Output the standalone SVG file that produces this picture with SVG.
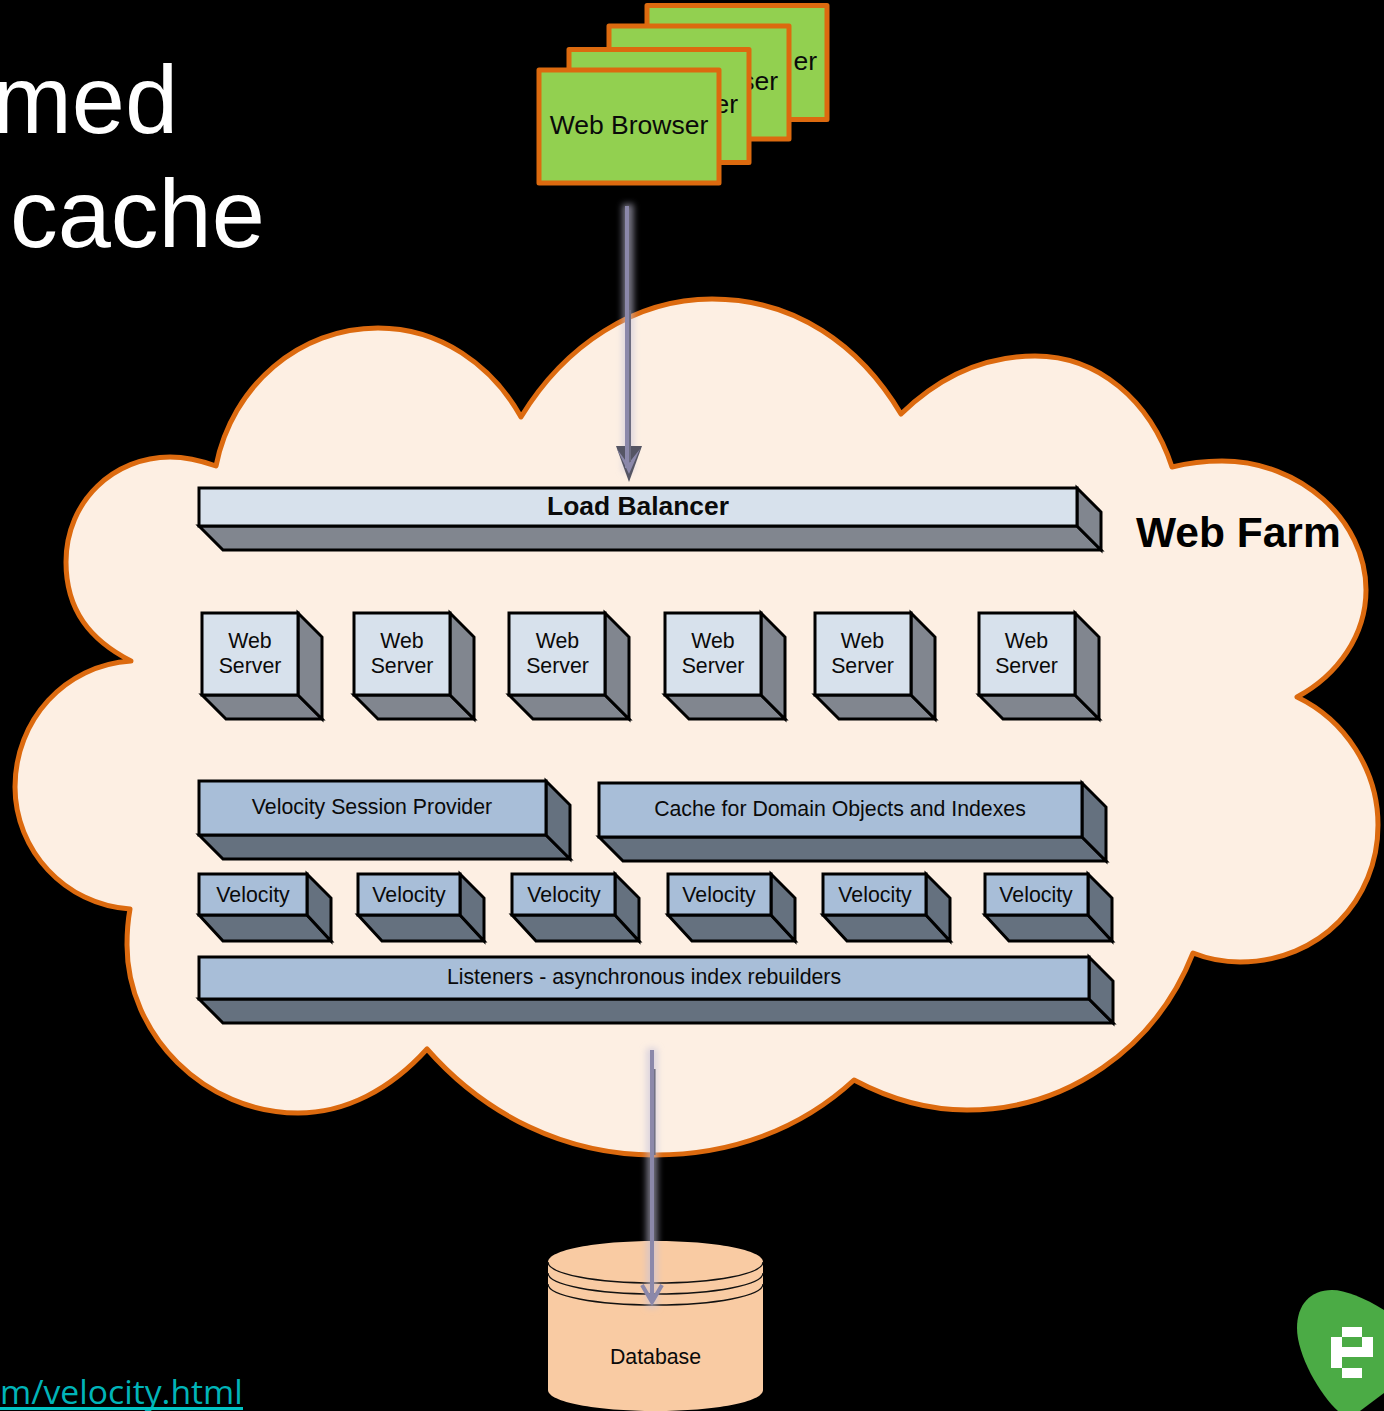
<svg xmlns="http://www.w3.org/2000/svg" width="1384" height="1411" viewBox="0 0 1384 1411">
<style>
text{font-family:"Liberation Sans",Arial,sans-serif;fill:#0a0a0a}
.m{text-anchor:middle}
.t21{font-size:21.3px}
.browser{fill:#92d050;stroke:#dc6a0f;stroke-width:5;stroke-linejoin:round}
.bt{font-size:26.500px}
.title{font-size:95.5px;fill:#fff}
.box path,.box rect{stroke:#000;stroke-width:3;stroke-linejoin:miter}
.pale .f{fill:#d7e1ec}.pale .s{fill:#81868f}
.blue .f{fill:#a8bed8}.blue .s{fill:#65717f}
.glow{stroke:#c4c2da;stroke-opacity:.6;stroke-width:11;fill:none;filter:url(#blur)}
.dbl{fill:none;stroke:#111;stroke-width:1.3}
</style>
<defs>
<filter id="blur" filterUnits="userSpaceOnUse" x="0" y="0" width="1384" height="1411"><feGaussianBlur stdDeviation="3"/></filter>
</defs>
<rect width="1384" height="1411" fill="#000"/>
<g id="title">
<text class="title" x="-7.700" y="133">med</text>
<text class="title" x="10" y="247">cache</text>
</g>
<g id="link">
<text x="0" y="1404" font-size="33.700" style="font-family:'Open Sans','Noto Sans',sans-serif;fill:#00b4b8">m/velocity.html</text>
<rect x="0" y="1407" width="243" height="3" fill="#00c4c4"/>
</g>
<g id="browser-4"><rect class="browser" x="647" y="5.500" width="180" height="114"/><text class="bt" x="817" y="70" text-anchor="end">er</text></g>
<g id="browser-3"><rect class="browser" x="609" y="26" width="180" height="113"/><text class="bt" x="778" y="90" text-anchor="end">ser</text></g>
<g id="browser-2"><rect class="browser" x="569" y="49.500" width="180" height="113"/><text class="bt" x="738" y="113" text-anchor="end">er</text></g>
<g id="browser-1"><rect class="browser" x="539" y="70" width="180" height="113"/><text class="bt m" x="629" y="134">Web Browser</text></g>
<g id="web-farm-cloud">
<path d="M131 661C90 640 66 610 66 562C66 500 115 457 170 457C187 457 202 461 216 466C232 385 300 328 378 328C440 328 492 365 521 417C565 345 635 299 712 299C795 299 860 345 901 414C940 376 985 356 1035 356C1098 356 1150 400 1172 467C1192 462 1205 461 1222 461C1300 461 1366 520 1366 590C1366 635 1338 675 1297 697C1345 720 1378 770 1378 825C1378 900 1320 962 1240 962C1222 962 1208 959 1193 953C1155 1050 1065 1110 967 1110C925 1110 888 1098 854 1080C800 1130 730 1155 655 1155C565 1155 485 1115 427 1049C390 1090 345 1113 298 1113C205 1113 127 1035 127 945C127 930 128 920 130 909C65 905 15 850 15 787C15 720 65 665 131 661Z" fill="#fdefe3" stroke="#dc6a0f" stroke-width="5" stroke-linejoin="round"/>
<text x="1136" y="547" font-size="42.500" font-weight="700" style="fill:#000">Web Farm</text>
</g>
<g id="load-balancer" class="box pale"><path class="s" d="M199 526L223 550H1101L1077 526Z"/><path class="s" d="M1077 488L1101 512V550L1077 526Z"/><rect class="f" x="199" y="488" width="878" height="38"/><text class="m" x="638" y="515" font-size="26.400" font-weight="700">Load Balancer</text></g>
<g id="web-server-1" class="box pale"><path class="s" d="M202 695L226 719H322L298 695Z"/><path class="s" d="M298 613L322 637V719L298 695Z"/><rect class="f" x="202" y="613" width="96" height="82"/><text class="t21 m" x="250" y="648">Web</text><text class="t21 m" x="250" y="673">Server</text></g>
<g id="web-server-2" class="box pale"><path class="s" d="M354 695L378 719H474L450 695Z"/><path class="s" d="M450 613L474 637V719L450 695Z"/><rect class="f" x="354" y="613" width="96" height="82"/><text class="t21 m" x="402" y="648">Web</text><text class="t21 m" x="402" y="673">Server</text></g>
<g id="web-server-3" class="box pale"><path class="s" d="M509 695L533 719H629L605 695Z"/><path class="s" d="M605 613L629 637V719L605 695Z"/><rect class="f" x="509" y="613" width="96" height="82"/><text class="t21 m" x="557.500" y="648">Web</text><text class="t21 m" x="557.500" y="673">Server</text></g>
<g id="web-server-4" class="box pale"><path class="s" d="M665 695L689 719H785L761 695Z"/><path class="s" d="M761 613L785 637V719L761 695Z"/><rect class="f" x="665" y="613" width="96" height="82"/><text class="t21 m" x="713" y="648">Web</text><text class="t21 m" x="713" y="673">Server</text></g>
<g id="web-server-5" class="box pale"><path class="s" d="M815 695L839 719H935L911 695Z"/><path class="s" d="M911 613L935 637V719L911 695Z"/><rect class="f" x="815" y="613" width="96" height="82"/><text class="t21 m" x="862.500" y="648">Web</text><text class="t21 m" x="862.500" y="673">Server</text></g>
<g id="web-server-6" class="box pale"><path class="s" d="M979 695L1003 719H1099L1075 695Z"/><path class="s" d="M1075 613L1099 637V719L1075 695Z"/><rect class="f" x="979" y="613" width="96" height="82"/><text class="t21 m" x="1026.500" y="648">Web</text><text class="t21 m" x="1026.500" y="673">Server</text></g>
<g id="session-provider" class="box blue"><path class="s" d="M199 835L223 859H570L546 835Z"/><path class="s" d="M546 781L570 805V859L546 835Z"/><rect class="f" x="199" y="781" width="347" height="54"/><text class="t21 m" x="372" y="814">Velocity Session Provider</text></g>
<g id="domain-cache" class="box blue"><path class="s" d="M599 837L623 861H1106L1082 837Z"/><path class="s" d="M1082 783L1106 807V861L1082 837Z"/><rect class="f" x="599" y="783" width="483" height="54"/><text class="t21 m" x="840" y="816">Cache for Domain Objects and Indexes</text></g>
<g id="velocity-1" class="box blue"><path class="s" d="M199 915L223 941H331L307 915Z"/><path class="s" d="M307 874L331 898V941L307 915Z"/><rect class="f" x="199" y="874" width="108" height="41"/><text class="t21 m" x="253" y="902">Velocity</text></g>
<g id="velocity-2" class="box blue"><path class="s" d="M358 915L382 941H484L460 915Z"/><path class="s" d="M460 874L484 898V941L460 915Z"/><rect class="f" x="358" y="874" width="102" height="41"/><text class="t21 m" x="409" y="902">Velocity</text></g>
<g id="velocity-3" class="box blue"><path class="s" d="M512 915L536 941H639L615 915Z"/><path class="s" d="M615 874L639 898V941L615 915Z"/><rect class="f" x="512" y="874" width="103" height="41"/><text class="t21 m" x="564" y="902">Velocity</text></g>
<g id="velocity-4" class="box blue"><path class="s" d="M668 915L692 941H795L771 915Z"/><path class="s" d="M771 874L795 898V941L771 915Z"/><rect class="f" x="668" y="874" width="103" height="41"/><text class="t21 m" x="719" y="902">Velocity</text></g>
<g id="velocity-5" class="box blue"><path class="s" d="M823 915L847 941H950L926 915Z"/><path class="s" d="M926 874L950 898V941L926 915Z"/><rect class="f" x="823" y="874" width="103" height="41"/><text class="t21 m" x="875" y="902">Velocity</text></g>
<g id="velocity-6" class="box blue"><path class="s" d="M985 915L1009 941H1112L1088 915Z"/><path class="s" d="M1088 874L1112 898V941L1088 915Z"/><rect class="f" x="985" y="874" width="103" height="41"/><text class="t21 m" x="1036" y="902">Velocity</text></g>
<g id="listeners" class="box blue"><path class="s" d="M199 999L223 1023H1113L1089 999Z"/><path class="s" d="M1089 957L1113 981V1023L1089 999Z"/><rect class="f" x="199" y="957" width="890" height="42"/><text class="t21 m" x="644" y="984">Listeners - asynchronous index rebuilders</text></g>
<g id="database">
<path d="M548 1262C548 1250 596 1241 655.500 1241C715 1241 763 1250 763 1262V1390C763 1402 715 1411 655.500 1411C596 1411 548 1402 548 1390Z" fill="#f9cba3"/>
<path class="dbl" d="M548 1262C548 1274 596 1283 655.500 1283C715 1283 763 1274 763 1262"/>
<path class="dbl" d="M548 1273C548 1285 596 1294 655.500 1294C715 1294 763 1285 763 1273"/>
<path class="dbl" d="M548 1284C548 1296 596 1305 655.500 1305C715 1305 763 1296 763 1284"/>
<text class="t21 m" x="655.500" y="1364">Database</text>
</g>
<g id="logo">
<path d="M1384 1310C1365 1298 1345 1290 1332 1290C1310 1290 1297 1305 1297 1328C1297 1355 1320 1395 1338 1411H1360L1384 1393Z" fill="#4bab45"/>
<g fill="#fff"><rect x="1342" y="1327" width="20" height="10"/><rect x="1331" y="1337" width="11" height="31"/><rect x="1362" y="1337" width="11" height="20"/><rect x="1342" y="1347" width="20" height="10"/><rect x="1342" y="1368" width="20" height="10"/></g>
</g>
<g id="connectors">
<g id="browser-to-balancer">
<path class="glow" d="M628 204V472"/>
<path fill="#555564" d="M616 446H642L629 482Z"/>
<path fill="#8b88aa" d="M617 449L628 464L640 449L629 474Z"/>
<path stroke="#8b88aa" stroke-width="4" fill="none" d="M627 206V468"/>
<path stroke="#6c6c80" stroke-width="2" fill="none" d="M630 310V462"/>
</g>
<g id="listeners-to-database">
<path class="glow" d="M652 1048V1308"/>
<path stroke="#8b88aa" stroke-width="4" fill="none" d="M652 1050V1302"/>
<path stroke="#6c6c80" stroke-width="1.500" fill="none" d="M654.800 1069V1155"/>
<path stroke="#8b88aa" stroke-width="4" fill="none" d="M642 1285L652 1302L662 1285"/>
</g>
</g>
</svg>
